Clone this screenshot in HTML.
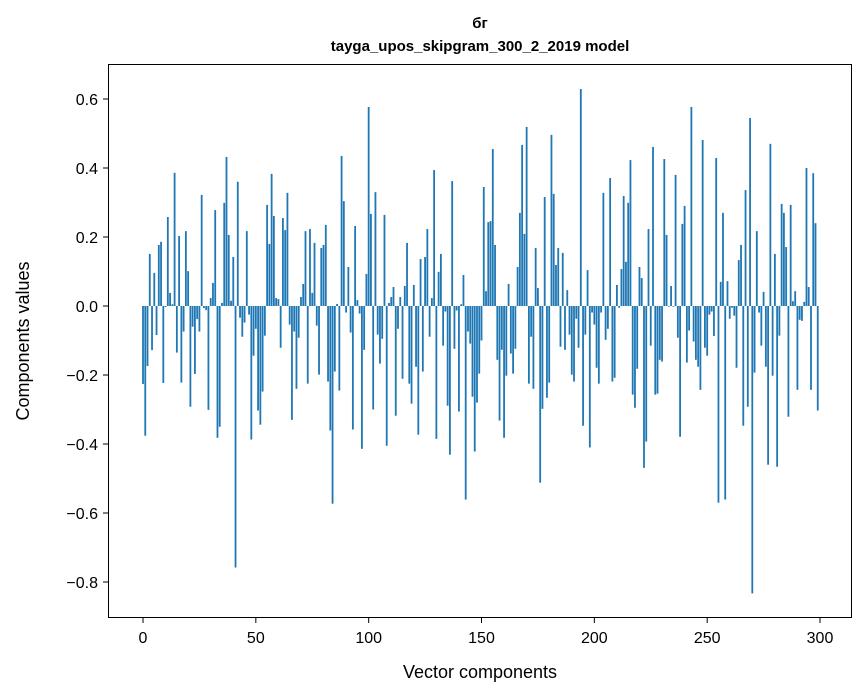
<!DOCTYPE html>
<html><head><meta charset="utf-8"><style>
body{margin:0;background:#fff}
svg{display:block;font-family:"Liberation Sans","DejaVu Sans",sans-serif}
</style></head><body>
<svg id="chart" width="867" height="696">
<text x="480" y="28" text-anchor="middle" font-size="15" font-weight="bold">бг</text>
<text x="480" y="51" text-anchor="middle" font-size="15" font-weight="bold">tayga_upos_skipgram_300_2_2019 model</text>
<g id="bars"></g>
<g id="axes"></g>
<rect x="108.5" y="64.5" width="743" height="553" fill="none" stroke="#000" stroke-width="1"/>
<text x="480" y="678" text-anchor="middle" font-size="18">Vector components</text>
<text transform="translate(29,341) rotate(-90)" text-anchor="middle" font-size="18">Components values</text>
</svg>
<script>
const values=[-0.226,-0.376,-0.174,0.151,-0.128,0.096,-0.084,0.177,0.186,-0.223,
-0.003,0.258,0.038,0.005,0.386,-0.135,0.203,-0.222,-0.074,0.217,
0.101,-0.292,-0.06,-0.197,-0.038,-0.074,0.322,-0.006,-0.012,-0.301,
0.023,0.067,0.278,-0.382,-0.35,0.009,0.299,0.432,0.206,0.015,
0.142,-0.758,0.36,-0.034,-0.089,-0.048,0.217,-0.025,-0.387,-0.144,
-0.066,-0.303,-0.344,-0.248,-0.086,0.293,0.18,0.383,0.261,0.023,
0.02,-0.121,0.255,0.22,0.328,-0.054,-0.33,-0.074,-0.24,-0.092,
0.026,0.064,0.217,-0.225,0.223,0.038,0.183,-0.057,-0.199,0.168,
0.177,0.235,-0.219,-0.361,-0.573,-0.19,0.006,-0.245,0.435,0.304,
-0.019,0.113,-0.077,-0.358,0.232,0.017,-0.022,-0.414,-0.127,0.093,
0.577,0.267,-0.30,0.33,-0.083,-0.167,-0.095,0.264,-0.405,0.009,
0.026,0.055,-0.318,-0.066,0.026,-0.211,0.058,0.183,-0.225,-0.283,
0.061,-0.176,-0.373,0.136,-0.19,0.142,0.223,-0.089,0.023,0.394,
-0.385,0.099,0.151,-0.115,-0.016,-0.289,-0.431,0.362,-0.124,-0.013,
-0.306,0.005,0.09,-0.561,-0.074,-0.109,-0.263,-0.422,-0.28,-0.196,
-0.1,0.345,0.043,0.243,0.246,0.455,0.177,-0.156,-0.332,-0.127,
-0.382,-0.202,0.064,-0.138,-0.196,-0.124,0.113,0.27,0.467,0.209,
0.519,-0.225,-0.089,-0.24,0.168,0.052,-0.512,-0.298,0.316,-0.266,
-0.222,0.496,0.325,0.119,0.168,-0.118,0.154,-0.127,0.046,-0.083,
-0.199,-0.219,-0.037,-0.121,0.629,-0.347,-0.083,0.104,-0.41,-0.019,
-0.054,-0.179,-0.225,-0.019,0.328,-0.098,-0.066,0.371,-0.219,-0.208,
0.061,-0.005,0.107,0.319,0.128,0.299,0.423,-0.257,-0.295,-0.182,
0.113,0.081,-0.469,-0.393,0.223,-0.115,0.461,-0.257,-0.254,-0.156,
-0.161,0.426,0.206,-0.002,0.058,-0.002,0.38,-0.092,-0.379,0.238,
0.29,-0.164,-0.071,0.577,-0.103,-0.156,-0.176,-0.243,0.481,-0.121,
-0.144,-0.025,-0.016,-0.087,0.429,-0.57,0.07,0.27,-0.561,0.072,
-0.037,-0.005,-0.028,-0.179,0.133,0.177,-0.347,0.336,-0.292,0.545,
-0.833,-0.193,0.217,-0.019,-0.115,0.041,-0.176,-0.46,0.47,-0.202,
0.151,-0.466,-0.086,0.296,0.27,0.171,-0.321,0.293,0.014,0.043,
-0.243,-0.04,-0.043,0.012,0.4,0.055,-0.243,0.385,0.24,-0.303];
const xTicks=[0,50,100,150,200,250,300];
const yTicks=[0.6,0.4,0.2,0.0,-0.2,-0.4,-0.6,-0.8];
const NS="http://www.w3.org/2000/svg";
function xs(v){return 143+v*2.2567;}
function ys(v){return 306-v*345;}
const bars=document.getElementById('bars');
values.forEach((v,i)=>{
  const r=document.createElementNS(NS,'rect');
  const y0=ys(0),y1=ys(v);
  r.setAttribute('x',xs(i-0.4));
  r.setAttribute('width',2.2567*0.8);
  r.setAttribute('y',Math.min(y0,y1));
  r.setAttribute('height',Math.abs(y1-y0));
  r.setAttribute('fill','#1f77b4');
  
  
  bars.appendChild(r);
});
const axes=document.getElementById('axes');
xTicks.forEach(t=>{
  const l=document.createElementNS(NS,'line');
  l.setAttribute('x1',xs(t));l.setAttribute('x2',xs(t));
  l.setAttribute('y1',618);l.setAttribute('y2',623);
  l.setAttribute('stroke','#000');
  
  
  axes.appendChild(l);
  const tx=document.createElementNS(NS,'text');
  tx.setAttribute('x',xs(t));tx.setAttribute('y',643);
  tx.setAttribute('text-anchor','middle');tx.setAttribute('font-size','16');
  tx.textContent=t;
  
  
  axes.appendChild(tx);
});
yTicks.forEach(t=>{
  const l=document.createElementNS(NS,'line');
  l.setAttribute('x1',103);l.setAttribute('x2',108);
  l.setAttribute('y1',ys(t));l.setAttribute('y2',ys(t));
  l.setAttribute('stroke','#000');
  
  
  axes.appendChild(l);
  const tx=document.createElementNS(NS,'text');
  tx.setAttribute('x',98);tx.setAttribute('y',ys(t)+6);
  tx.setAttribute('text-anchor','end');tx.setAttribute('font-size','16');
  tx.textContent=(t<0?'\u2212':'')+Math.abs(t).toFixed(1);
  
  
  axes.appendChild(tx);
});
</script>
</body></html>
